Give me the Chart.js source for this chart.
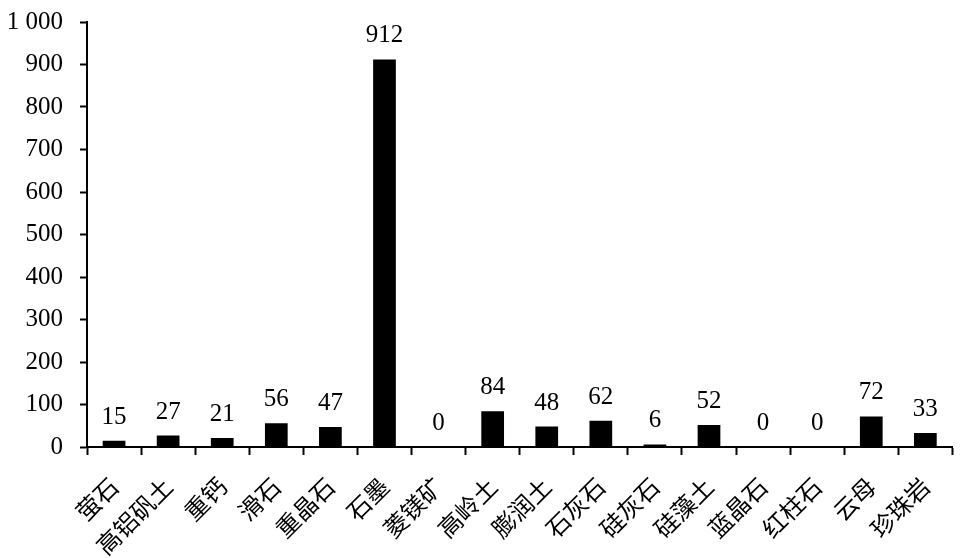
<!DOCTYPE html>
<html lang="zh">
<head>
    <meta charset="UTF-8">
    <title>矿物数量</title>
    <script src="https://cdn.jsdelivr.net/npm/chart.js"></script>
    <style>
        html, body { margin: 0; padding: 0; background: #fff; }
        #wrap { width: 963px; height: 558px; }
    </style>
</head>
<body>
<div id="wrap"><canvas id="barChart" width="963" height="558"></canvas></div>
<script>
    // data
    const minerals = ['萤石', '高铝矾土', '重钙', '滑石', '重晶石', '石墨', '菱镁矿', '高岭土',
        '膨润土', '石灰石', '硅灰石', '硅藻土', '蓝晶石', '红柱石', '云母', '珍珠岩'];
    const counts = [15, 27, 21, 56, 47, 912, 0, 84, 48, 62, 6, 52, 0, 0, 72, 33];
    const yTicks = [0, 100, 200, 300, 400, 500, 600, 700, 800, 900, 1000];

    const serif = "'Liberation Serif', 'Times New Roman', 'Noto Sans CJK SC', serif";
    const cjk = "'Noto Sans CJK SC', 'Liberation Serif', serif";

    // labels above each bar
    const valueLabels = {
        id: 'valueLabels',
        afterDatasetsDraw(chart) {
            const ctx = chart.ctx;
            const meta = chart.getDatasetMeta(0);
            ctx.save();
            ctx.font = '25px ' + serif;
            ctx.fillStyle = '#000';
            ctx.textAlign = 'center';
            ctx.textBaseline = 'alphabetic';
            meta.data.forEach((bar, i) => {
                ctx.fillText(counts[i], bar.x, bar.y - 17);
            });
            ctx.restore();
        }
    };

    new Chart(document.getElementById('barChart'), {
        type: 'bar',
        data: {
            labels: minerals,
            datasets: [{
                data: counts,
                backgroundColor: '#000',
                borderWidth: 0,
                barPercentage: 0.42,
                categoryPercentage: 1
            }]
        },
        options: {
            responsive: false,
            animation: false,
            layout: { padding: { top: 0, right: 9, left: 0, bottom: 0 } },
            plugins: {
                legend: { display: false },
                tooltip: { enabled: false }
            },
            scales: {
                x: {
                    offset: true,
                    grid: {
                        offset: true,
                        drawOnChartArea: false,
                        drawTicks: true,
                        tickLength: 8,
                        tickWidth: 2,
                        color: '#000'
                    },
                    border: { color: '#000', width: 2 },
                    ticks: {
                        color: '#000',
                        font: { family: cjk, size: 24 },
                        minRotation: 45,
                        maxRotation: 45,
                        autoSkip: false,
                        padding: 17
                    },
                    afterFit(scale) { scale.height = 111; }
                },
                y: {
                    min: 0,
                    max: 1000,
                    afterBuildTicks(scale) {
                        scale.ticks = yTicks.map(v => ({ value: v }));
                    },
                    grid: {
                        drawOnChartArea: false,
                        drawTicks: true,
                        tickLength: 7,
                        tickWidth: 2,
                        color: '#000'
                    },
                    border: { color: '#000', width: 2 },
                    ticks: {
                        color: '#000',
                        font: { family: serif, size: 25 },
                        padding: 17,
                        callback: v => v >= 1000 ? String(v).replace(/(\d)(\d{3})$/, '$1 $2') : v
                    },
                    afterFit(scale) {
                        scale.width = 87;
                        scale.paddingTop = 22;
                    }
                }
            }
        },
        plugins: [valueLabels]
    });
</script>
</body>
</html>
